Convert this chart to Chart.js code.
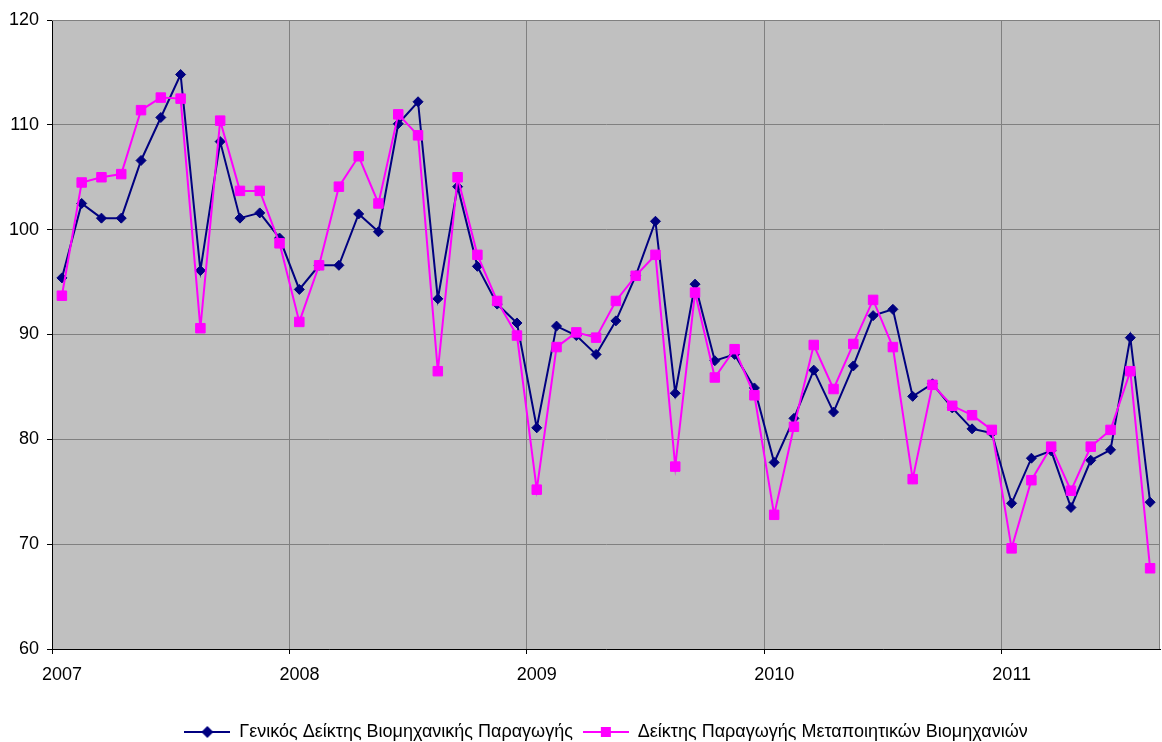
<!DOCTYPE html>
<html>
<head>
<meta charset="utf-8">
<script src="https://cdn.jsdelivr.net/npm/chart.js@4"></script>
<style>
    html, body { margin: 0; padding: 0; background: #fff; }
    #wrap { width: 1162px; height: 742px; }
</style>
</head>
<body>
<div id="wrap"><canvas id="chart"></canvas></div>
<script>
// monthly data, Jan 2007 .. Aug 2011
const years = ["2007", "2008", "2009", "2010", "2011"];

const generalIndex = [
    95.4, 102.5, 101.1, 101.1, 106.6, 110.7, 114.8, 96.1, 108.4, 101.1, 101.6, 99.2,
    94.3, 96.6, 96.6, 101.5, 99.8, 110.1, 112.2, 93.4, 104.1, 96.5, 92.9, 91.1,
    81.1, 90.8, 89.9, 88.1, 91.3, 95.6, 100.8, 84.4, 94.8, 87.5, 88.1, 84.9,
    77.8, 82.0, 86.6, 82.6, 87.0, 91.8, 92.4, 84.1, 85.3, 83.0, 81.0, 80.6,
    73.9, 78.2, 78.9, 73.5, 78.0, 79.0, 89.7, 74.0
];

const manufacturingIndex = [
    93.7, 104.5, 105.0, 105.3, 111.4, 112.6, 112.5, 90.6, 110.4, 103.7, 103.7, 98.7,
    91.2, 96.6, 104.1, 107.0, 102.5, 111.0, 109.0, 86.5, 105.0, 97.6, 93.2, 89.9,
    75.2, 88.8, 90.2, 89.7, 93.2, 95.6, 97.6, 77.4, 94.0, 85.9, 88.6, 84.2,
    72.8, 81.2, 89.0, 84.8, 89.1, 93.3, 88.8, 76.2, 85.2, 83.2, 82.3, 80.9,
    69.6, 76.1, 79.3, 75.1, 79.3, 80.9, 86.5, 67.7
];

const seriesNames = [
    "Γενικός Δείκτης Βιομηχανικής Παραγωγής",
    "Δείκτης Παραγωγής Μεταποιητικών Βιομηχανιών"
];

const NAVY = "#000080";
const MAGENTA = "#FF00FF";
const FONT = "'Liberation Sans', Arial, sans-serif";

// small legend image: line with marker in the middle
function legendIcon(color, style) {
    const c = document.createElement("canvas");
    c.width = 46;
    c.height = 14;
    const ctx = c.getContext("2d");
    ctx.strokeStyle = color;
    ctx.fillStyle = color;
    ctx.lineWidth = 2;
    ctx.beginPath();
    ctx.moveTo(0, 7);
    ctx.lineTo(46, 7);
    ctx.stroke();
    ctx.beginPath();
    if (style === "diamond") {
        ctx.moveTo(23, 1);
        ctx.lineTo(29, 7);
        ctx.lineTo(23, 13);
        ctx.lineTo(17, 7);
        ctx.closePath();
    } else {
        ctx.rect(18, 2, 10, 10);
    }
    ctx.fill();
    return c;
}

const plotBackground = {
    id: "plotBackground",
    beforeDraw(chart) {
        const {ctx, chartArea: a} = chart;
        ctx.save();
        ctx.fillStyle = "#C0C0C0";
        ctx.fillRect(a.left, a.top, a.right - a.left, a.bottom - a.top);
        ctx.restore();
    },
    beforeDatasetsDraw(chart) {
        const {ctx, chartArea: a} = chart;
        ctx.save();
        ctx.strokeStyle = "#808080";
        ctx.lineWidth = 1;
        ctx.beginPath();
        ctx.moveTo(a.left, a.top + 0.5);
        ctx.lineTo(a.right - 0.5, a.top + 0.5);
        ctx.lineTo(a.right - 0.5, a.bottom);
        ctx.stroke();
        ctx.restore();
    }
};

const toPoints = arr => arr.map((v, i) => ({x: i, y: v}));

new Chart(document.getElementById("chart"), {
    type: "line",
    data: {
        datasets: [{
            label: seriesNames[0],
            data: toPoints(generalIndex),
            borderColor: NAVY,
            backgroundColor: NAVY,
            borderWidth: 2,
            pointStyle: "rectRot",
            pointRadius: 5,
            pointBorderWidth: 1,
            tension: 0,
            order: 1
        }, {
            label: seriesNames[1],
            data: toPoints(manufacturingIndex),
            borderColor: MAGENTA,
            backgroundColor: MAGENTA,
            borderWidth: 2,
            pointStyle: "rect",
            pointRadius: 6.7,
            pointBorderWidth: 1,
            tension: 0,
            order: 0
        }]
    },
    options: {
        responsive: true,
        maintainAspectRatio: false,
        animation: false,
        layout: {
            autoPadding: false,
            padding: {top: 20, right: 2, left: 0, bottom: -9}
        },
        plugins: {
            tooltip: {enabled: false},
            legend: {
                position: "bottom",
                fullSize: false,
                labels: {
                    usePointStyle: true,
                    pointStyleWidth: 46,
                    padding: 10,
                    color: "#000",
                    font: {family: FONT, size: 18},
                    generateLabels: () => [
                        {text: seriesNames[0], pointStyle: legendIcon(NAVY, "diamond"), datasetIndex: 0, fontColor: "#000"},
                        {text: seriesNames[1], pointStyle: legendIcon(MAGENTA, "square"), datasetIndex: 1, fontColor: "#000"}
                    ]
                }
            }
        },
        scales: {
            x: {
                type: "linear",
                min: -0.5,
                max: generalIndex.length - 0.5,
                afterBuildTicks: scale => {
                    scale.ticks = years.map((y, k) => ({value: 12 * k - 0.5}));
                },
                afterFit: scale => {
                    scale.height = 64;
                    scale.paddingLeft = 0;
                    scale.paddingRight = 0;
                },
                ticks: {
                    callback: value => years[Math.round((value + 0.5) / 12)],
                    color: "#000",
                    font: {family: FONT, size: 18},
                    labelOffset: 10,
                    padding: 10,
                    maxRotation: 0
                },
                grid: {color: "#808080", tickColor: "#000", tickLength: 5},
                border: {color: "#000", width: 1}
            },
            y: {
                min: 60,
                max: 120,
                afterFit: scale => {
                    scale.width = 52;
                },
                ticks: {
                    stepSize: 10,
                    color: "#000",
                    font: {family: FONT, size: 18},
                    padding: 8
                },
                grid: {color: "#808080", tickColor: "#000", tickLength: 5},
                border: {color: "#000", width: 1}
            }
        }
    },
    plugins: [plotBackground]
});
</script>
</body>
</html>
